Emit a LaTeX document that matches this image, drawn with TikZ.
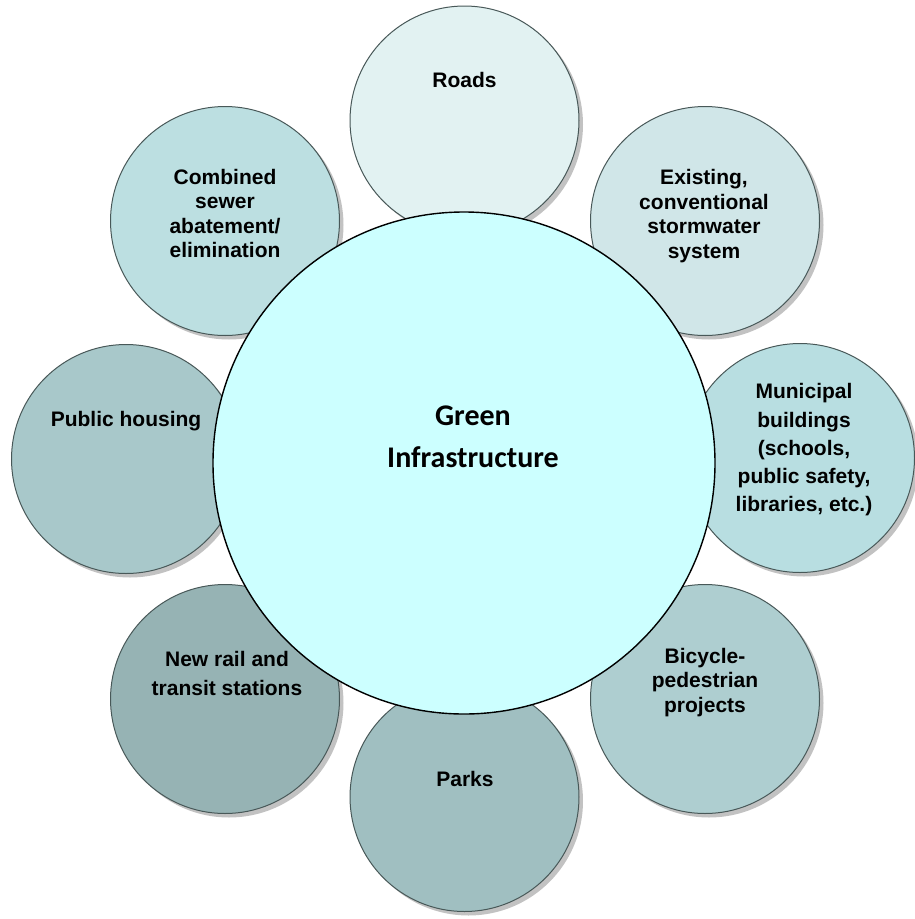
\documentclass[tikz,border=0pt]{standalone}
\usepackage{fontspec}
\setmainfont{Liberation Sans}
\newfontfamily\calfont{Carlito}
\usetikzlibrary{shadows}
\definecolor{cRoads}{HTML}{E2F2F2}
\definecolor{cExist}{HTML}{D0E6E8}
\definecolor{cComb}{HTML}{BCDFE1}
\definecolor{cMuni}{HTML}{B8DEE1}
\definecolor{cHous}{HTML}{A8C8CA}
\definecolor{cBike}{HTML}{AECED0}
\definecolor{cRail}{HTML}{96B3B4}
\definecolor{cPark}{HTML}{A0BFC1}
\definecolor{cCore}{HTML}{CCFFFF}
\definecolor{cEdge}{HTML}{485858}
\definecolor{cShadow}{HTML}{C2C2C2}
\tikzset{
  sat/.style={circle, minimum size=229pt, inner sep=0pt, draw=cEdge, line width=1pt,
    drop shadow={shadow xshift=4pt, shadow yshift=-4pt, fill=cShadow, opacity=1}},
  core/.style={circle, minimum size=502pt, inner sep=0pt, draw=black, line width=1.4pt, fill=cCore},
  lbl/.style={anchor=north, inner sep=0pt, align=center, font=\bfseries\fontsize{21}{24.5}\selectfont},
  lblw/.style={lbl, font=\bfseries\fontsize{21}{28.2}\selectfont},
}
\begin{document}
\begin{tikzpicture}[x=1pt, y=-1pt]
\useasboundingbox (0,0) rectangle (915,919);
% satellites
\node[sat, fill=cRoads] (roads) at (464.5,120.5) {};
\node[sat, fill=cExist] (exist) at (705,221) {};
\node[sat, fill=cComb] (comb) at (225,221) {};
\node[sat, fill=cHous] (hous) at (126,459) {};
\node[sat, fill=cMuni] (muni) at (800,458) {};
\node[sat, fill=cRail] (rail) at (225,699) {};
\node[sat, fill=cBike] (bike) at (705,699) {};
\node[sat, fill=cPark] (park) at (464.5,797) {};
% central
\node[core] (core) at (464,463) {};
% labels
\node[lbl] (roadsT) at (464.5,72.5) {Roads};
\node[lbl] (existT) at (704,169.5) {Existing,\\conventional\\stormwater\\system};
\node[lbl] (combT) at (225,169) {Combined\\sewer\\abatement/\\elimination};
\node[lbl] (housT) at (126,411.5) {Public housing};
\node[lblw] (muniT) at (804,383.5) {Municipal\\buildings\\(schools,\\public safety,\\libraries, etc.)};
\node[lblw] (railT) at (227,651.5) {New rail and\\transit stations};
\node[lbl] (bikeT) at (705,648) {Bicycle-\\pedestrian\\projects};
\node[lbl] (parkT) at (465,771.5) {Parks};
\node[anchor=north, inner sep=0pt, align=center, font=\calfont\bfseries\fontsize{30}{42}\selectfont] (coreT) at (473,405.5) {Green\\Infrastructure};
\end{tikzpicture}
\end{document}
